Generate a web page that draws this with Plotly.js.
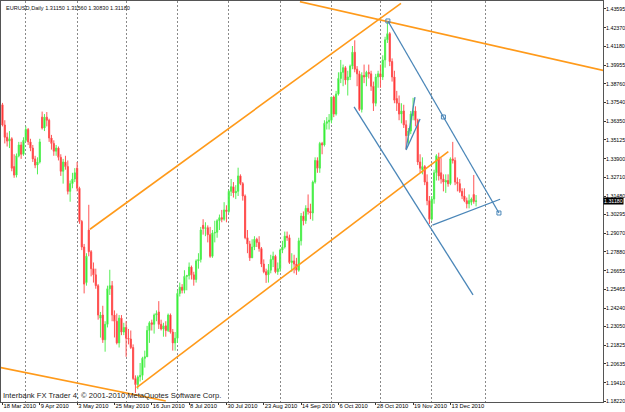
<!DOCTYPE html>
<html><head><meta charset="utf-8">
<script src="https://cdn.plot.ly/plotly-3.0.1.min.js"></script>
<style>html,body{margin:0;padding:0;background:#fff;}#chart{width:625px;height:412px;}</style>
</head><body><div id="chart"></div>
<script>
// Daily EURUSD bars, 18 Mar 2010 .. 28 Dec 2010 (bar index 0 = 18 Mar 2010, weekdays only)
const opens = [1.3740,1.3609,1.3530,1.3505,1.3520,1.3340,1.3285,1.3410,1.3480,1.3420,1.3510,1.3580,1.3500,1.3460,1.3390,1.3350,1.3370,1.3660,1.3590,1.3660,
1.3640,1.3525,1.3490,1.3440,1.3460,1.3400,1.3310,1.3370,1.3340,1.3180,1.3230,1.3260,1.3330,1.3200,1.2985,1.2820,1.2590,1.2930,1.2790,1.2680,
1.2640,1.2570,1.2360,1.2380,1.2220,1.2320,1.2550,1.2570,1.2380,1.2340,1.2200,1.2360,1.2270,1.2300,1.2230,1.2225,1.2170,1.1970,1.1930,1.1980,
1.1990,1.2100,1.2110,1.2280,1.2330,1.2320,1.2380,1.2400,1.2320,1.2290,1.2310,1.2280,1.2380,1.2270,1.2200,1.2230,1.2520,1.2560,1.2540,1.2630,
1.2635,1.2690,1.2640,1.2610,1.2730,1.2740,1.2960,1.2940,1.2945,1.2900,1.2760,1.2910,1.2915,1.2990,1.3010,1.3000,1.3060,1.3050,1.3180,1.3210,
1.3170,1.3180,1.3280,1.3230,1.3150,1.2880,1.2840,1.2750,1.2820,1.2870,1.2850,1.2810,1.2710,1.2660,1.2640,1.2670,1.2740,1.2760,1.2660,1.2680,
1.2800,1.2820,1.2890,1.2880,1.2720,1.2730,1.2710,1.2670,1.2860,1.3020,1.2990,1.3070,1.3050,1.3040,1.3240,1.3380,1.3330,1.3490,1.3480,1.3620,
1.3630,1.3640,1.3790,1.3680,1.3810,1.3910,1.3950,1.3980,1.3900,1.3920,1.3990,1.4080,1.3970,1.3940,1.3710,1.3930,1.3920,1.3950,1.3940,1.3860,
1.3750,1.3920,1.3940,1.3920,1.4030,1.4160,1.4200,1.4020,1.3920,1.3780,1.3750,1.3680,1.3700,1.3610,1.3540,1.3570,1.3670,1.3700,1.3640,1.3370,
1.3320,1.3340,1.3240,1.3120,1.3000,1.3130,1.3300,1.3400,1.3300,1.3260,1.3240,1.3250,1.3230,1.3390,1.3380,1.3240,1.3230,1.3180,1.3150,1.3120,
1.3100,1.3110,1.3160,1.3115];
const highs = [1.3752,1.3640,1.3560,1.3570,1.3530,1.3420,1.3425,1.3500,1.3500,1.3530,1.3600,1.3590,1.3520,1.3480,1.3410,1.3400,1.3520,1.3696,1.3680,1.3693,
1.3650,1.3545,1.3510,1.3480,1.3470,1.3420,1.3390,1.3410,1.3380,1.3250,1.3300,1.3330,1.3370,1.3210,1.2995,1.2840,1.2780,1.3093,1.2800,1.2720,
1.2680,1.2580,1.2400,1.2440,1.2340,1.2570,1.2673,1.2600,1.2410,1.2390,1.2380,1.2380,1.2330,1.2340,1.2290,1.2280,1.2190,1.1990,1.1990,1.2070,
1.2110,1.2150,1.2310,1.2340,1.2350,1.2390,1.2410,1.2470,1.2350,1.2330,1.2340,1.2390,1.2390,1.2290,1.2270,1.2540,1.2590,1.2580,1.2670,1.2640,
1.2720,1.2700,1.2660,1.2740,1.2780,1.2950,1.3000,1.2980,1.2960,1.2950,1.2930,1.2990,1.3000,1.3030,1.3060,1.3110,1.3090,1.3190,1.3260,1.3240,
1.3220,1.3333,1.3290,1.3240,1.3160,1.2930,1.2860,1.2870,1.2890,1.2880,1.2890,1.2820,1.2740,1.2680,1.2710,1.2770,1.2790,1.2770,1.2720,1.2810,
1.2860,1.2920,1.2920,1.2900,1.2780,1.2770,1.2750,1.2880,1.3040,1.3050,1.3090,1.3160,1.3100,1.3250,1.3400,1.3400,1.3500,1.3500,1.3640,1.3660,
1.3680,1.3790,1.3800,1.3830,1.3950,1.4030,1.4000,1.3990,1.3960,1.4000,1.4120,1.4157,1.3990,1.3960,1.3950,1.4000,1.3960,1.4000,1.3960,1.3890,
1.3940,1.3960,1.4000,1.4060,1.4180,1.4282,1.4210,1.4040,1.3960,1.3830,1.3800,1.3750,1.3740,1.3640,1.3590,1.3700,1.3785,1.3730,1.3650,1.3420,
1.3400,1.3350,1.3290,1.3150,1.3150,1.3320,1.3420,1.3430,1.3395,1.3290,1.3290,1.3290,1.3400,1.3500,1.3400,1.3270,1.3260,1.3200,1.3200,1.3140,
1.3160,1.3140,1.3286,1.3156];
const lows = [1.3600,1.3490,1.3470,1.3460,1.3310,1.3268,1.3270,1.3400,1.3390,1.3410,1.3500,1.3480,1.3440,1.3370,1.3330,1.3290,1.3360,1.3580,1.3570,1.3600,
1.3500,1.3450,1.3410,1.3410,1.3380,1.3280,1.3230,1.3320,1.3160,1.3113,1.3200,1.3240,1.3180,1.2970,1.2800,1.2520,1.2570,1.2760,1.2630,1.2590,
1.2550,1.2350,1.2234,1.2200,1.2143,1.2300,1.2510,1.2340,1.2235,1.2190,1.2170,1.2250,1.2250,1.2110,1.2190,1.2160,1.1960,1.1876,1.1900,1.1950,
1.1960,1.2040,1.2110,1.2200,1.2280,1.2260,1.2340,1.2290,1.2280,1.2240,1.2240,1.2270,1.2260,1.2150,1.2150,1.2200,1.2500,1.2520,1.2520,1.2540,
1.2610,1.2610,1.2570,1.2590,1.2680,1.2720,1.2900,1.2890,1.2850,1.2750,1.2750,1.2850,1.2880,1.2930,1.2980,1.2990,1.2980,1.3040,1.3150,1.3140,
1.3130,1.3150,1.3220,1.3120,1.2870,1.2780,1.2730,1.2750,1.2800,1.2820,1.2790,1.2690,1.2650,1.2588,1.2590,1.2650,1.2690,1.2650,1.2640,1.2660,
1.2780,1.2810,1.2860,1.2710,1.2660,1.2650,1.2640,1.2660,1.2830,1.2960,1.2970,1.3030,1.3000,1.2990,1.3230,1.3300,1.3300,1.3420,1.3470,1.3580,
1.3580,1.3620,1.3660,1.3670,1.3800,1.3880,1.3860,1.3870,1.3800,1.3900,1.3970,1.3950,1.3860,1.3700,1.3690,1.3880,1.3860,1.3910,1.3830,1.3700,
1.3730,1.3850,1.3850,1.3900,1.3980,1.4140,1.3990,1.3890,1.3750,1.3700,1.3640,1.3620,1.3590,1.3450,1.3480,1.3550,1.3640,1.3600,1.3350,1.3300,
1.3290,1.3220,1.3090,1.2969,1.2990,1.3100,1.3250,1.3250,1.3230,1.3180,1.3170,1.3210,1.3220,1.3360,1.3220,1.3180,1.3170,1.3130,1.3110,1.3070,
1.3070,1.3090,1.3100,1.3083];
const closes = [1.3609,1.3530,1.3505,1.3520,1.3330,1.3285,1.3410,1.3480,1.3420,1.3510,1.3580,1.3500,1.3460,1.3390,1.3350,1.3370,1.3500,1.3590,1.3660,1.3640,
1.3525,1.3490,1.3440,1.3460,1.3400,1.3310,1.3370,1.3340,1.3180,1.3230,1.3260,1.3300,1.3200,1.2985,1.2820,1.2580,1.2760,1.2790,1.2680,1.2640,
1.2570,1.2380,1.2380,1.2220,1.2320,1.2550,1.2570,1.2380,1.2340,1.2200,1.2360,1.2270,1.2300,1.2230,1.2225,1.2170,1.1970,1.1930,1.1980,1.1990,
1.2100,1.2110,1.2280,1.2330,1.2320,1.2380,1.2390,1.2320,1.2290,1.2310,1.2280,1.2380,1.2270,1.2200,1.2230,1.2520,1.2560,1.2540,1.2630,1.2635,
1.2690,1.2640,1.2610,1.2730,1.2740,1.2930,1.2940,1.2945,1.2900,1.2760,1.2910,1.2915,1.2990,1.3010,1.3000,1.3060,1.3050,1.3180,1.3210,1.3170,
1.3180,1.3280,1.3230,1.3150,1.2880,1.2840,1.2750,1.2820,1.2870,1.2850,1.2810,1.2710,1.2660,1.2640,1.2670,1.2740,1.2760,1.2660,1.2680,1.2800,
1.2820,1.2890,1.2880,1.2720,1.2730,1.2710,1.2670,1.2860,1.3020,1.2990,1.3070,1.3050,1.3040,1.3240,1.3380,1.3330,1.3490,1.3480,1.3620,1.3630,
1.3640,1.3790,1.3680,1.3810,1.3910,1.3950,1.3980,1.3900,1.3920,1.3990,1.4080,1.3970,1.3940,1.3710,1.3930,1.3920,1.3950,1.3940,1.3860,1.3750,
1.3920,1.3940,1.3920,1.4030,1.4160,1.4200,1.4020,1.3920,1.3770,1.3750,1.3680,1.3700,1.3610,1.3540,1.3570,1.3680,1.3700,1.3640,1.3370,1.3330,
1.3340,1.3240,1.3120,1.3000,1.3130,1.3300,1.3410,1.3280,1.3260,1.3240,1.3250,1.3230,1.3390,1.3380,1.3240,1.3230,1.3180,1.3150,1.3120,1.3100,
1.3120,1.3130,1.3115,1.3118];

const dateTickIndex = [0,16,32,48,64,80,96,112,128,144,160,176,192];
const dateTickLabels = ['18 Mar 2010','9 Apr 2010','3 May 2010','25 May 2010','16 Jun 2010','8 Jul 2010','30 Jul 2010','23 Aug 2010','14 Sep 2010','6 Oct 2010','28 Oct 2010','19 Nov 2010','13 Dec 2010'];
const monthStartIndex = [10,32,53,75,97,119,141,162,184,207];
const priceTicks = [1.18220,1.19410,1.20635,1.21825,1.23050,1.24240,1.25465,1.26655,1.27880,1.29070,1.30295,1.31480,1.32710,1.33900,1.35125,1.36350,1.37540,1.38760,1.39955,1.41180,1.42370,1.43595];

// trend lines: [bar index, price] anchor points
const orangeLowerLeft = [[-2,1.2044],[70,1.1824]];
const orangeChannelTop = [[37.5,1.2935],[170.8,1.4396]];
const orangeChannelBottom = [[57.5,1.1910],[191.1,1.3437]];
const orangeResistance = [[127.5,1.4407],[258,1.3960]];
const blueUpper = [[165.2,1.4282],[212.8,1.3040]];
const blueUpperAnchors = [[165.2,1.4282],[189.0,1.3661],[212.8,1.3040]];
const blueLower = [[150.7,1.3726],[201.7,1.2510]];
const blueSupport = [[184.3,1.2962],[213.3,1.3129]];
const blueShortA = [[173.0,1.3454],[176.8,1.3790]];
const blueShortB = [[173.0,1.3448],[179.0,1.3648]];

const headerText = 'EURUSD,Daily 1.31150 1.31560 1.30830 1.31180';
const footerText = 'Interbank FX Trader 4, © 2001-2010 MetaQuotes Software Corp.';
const lastPrice = 1.31180;

const barIndex = opens.map((_, k) => k);
const xRange = [-0.63, 257.4];
const yRange = [1.18176, 1.44112];
const ORANGE = '#FF9A1A', BLUE = '#4A86B8';
const sans = 'Liberation Sans, Arial, sans-serif';

function lineTrace(pts, color, width) {
  return {type:'scatter', mode:'lines', xaxis:'x2', yaxis:'y',
    x: pts.map(p => p[0]), y: pts.map(p => p[1]),
    line:{color:color, width:width}, hoverinfo:'skip', showlegend:false};
}

const traces = [
  {type:'candlestick', x: barIndex, open: opens, high: highs, low: lows, close: closes,
   increasing:{line:{color:'#55EE55', width:1}, fillcolor:'#00F000'},
   decreasing:{line:{color:'#FF5555', width:1}, fillcolor:'#FF0000'},
   whiskerwidth:0, hoverinfo:'skip', showlegend:false},
  lineTrace(orangeLowerLeft, ORANGE, 1.6),
  lineTrace(orangeChannelTop, ORANGE, 1.6),
  lineTrace(orangeChannelBottom, ORANGE, 1.6),
  lineTrace(orangeResistance, ORANGE, 1.6),
  lineTrace(blueUpper, BLUE, 1.3),
  lineTrace(blueLower, BLUE, 1.3),
  lineTrace(blueSupport, BLUE, 1.3),
  lineTrace(blueShortA, BLUE, 1.3),
  lineTrace(blueShortB, BLUE, 1.3),
  {type:'scatter', mode:'markers', xaxis:'x2', yaxis:'y',
   x: blueUpperAnchors.map(p => p[0]), y: blueUpperAnchors.map(p => p[1]),
   marker:{symbol:'square-open', size:4, color:BLUE, line:{width:1, color:BLUE}},
   hoverinfo:'skip', showlegend:false}
];

const layout = {
  width:625, height:412,
  margin:{l:1, r:22, t:1, b:10, pad:0},
  paper_bgcolor:'#FFFFFF', plot_bgcolor:'#FFFFFF',
  showlegend:false, hovermode:false, dragmode:false,
  xaxis:{range:xRange, tickmode:'array', tickvals:dateTickIndex, ticktext:dateTickLabels,
    tickangle:0, automargin:false,
    ticks:'outside', ticklen:2, tickwidth:1, tickcolor:'#333',
    ticklabelposition:'outside right', ticklabelstandoff:-2,
    tickfont:{family:sans, size:5.8, color:'#000'},
    showgrid:false, zeroline:false, showline:true, linecolor:'#555', linewidth:1, mirror:true,
    rangeslider:{visible:false}, fixedrange:true},
  xaxis2:{range:xRange, overlaying:'x', anchor:'y', tickmode:'array', tickvals:monthStartIndex,
    showticklabels:false, ticks:'', showgrid:true, gridcolor:'#8A8A8A', gridwidth:1, griddash:'2px,2px',
    zeroline:false, showline:false, fixedrange:true},
  yaxis:{range:yRange, side:'right', tickmode:'array', tickvals:priceTicks,
    ticktext: priceTicks.map(v => v.toFixed(5)), automargin:false,
    ticks:'outside', ticklen:2, tickwidth:1, tickcolor:'#333', ticklabelstandoff:-1,
    tickfont:{family:sans, size:5.3, color:'#000'},
    showgrid:false, zeroline:false, showline:true, linecolor:'#555', linewidth:1, mirror:true, fixedrange:true},
  annotations:[
    {xref:'paper', yref:'paper', x:0, y:1, xanchor:'left', yanchor:'top', xshift:3, yshift:-2,
     text:headerText, showarrow:false, font:{family:sans, size:5.6, color:'#111'}},
    {xref:'paper', yref:'paper', x:0, y:0, xanchor:'left', yanchor:'bottom', xshift:0, yshift:0,
     text:footerText, showarrow:false, font:{family:sans, size:7.6, color:'#222'}},
    {xref:'paper', yref:'y', x:1, y:lastPrice, xanchor:'left', yanchor:'middle', xshift:0,
     text:lastPrice.toFixed(5), showarrow:false, bgcolor:'#000000', borderpad:0,
     font:{family:sans, size:5.3, color:'#FFFFFF'}}
  ]
};

Plotly.newPlot('chart', traces, layout, {staticPlot:true, displayModeBar:false});
</script>
</body></html>
